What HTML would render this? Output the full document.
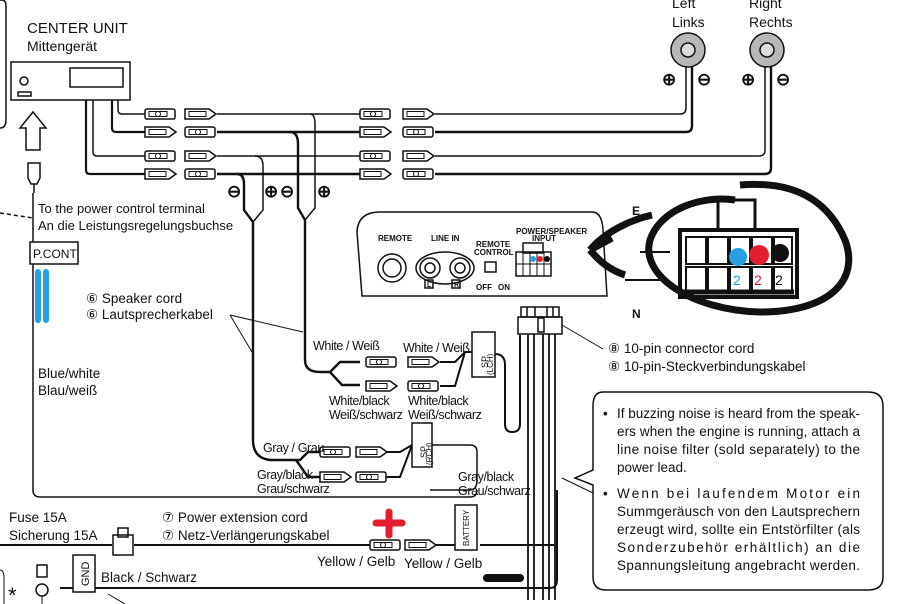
<!DOCTYPE html>
<html><head><meta charset="utf-8"><style>
html,body{margin:0;padding:0;background:#fff}
svg{display:block}
text{font-family:"Liberation Sans",sans-serif;fill:#111}
</style></head><body>
<svg width="913" height="604" viewBox="0 0 913 604" xmlns="http://www.w3.org/2000/svg">
<defs>
<g id="m"><rect x="0" y="-5" width="30" height="10" rx="2" fill="#fff" stroke="#111" stroke-width="1.5"/><rect x="4" y="-2.5" width="18" height="5" fill="none" stroke="#111"/><circle cx="13" cy="0" r="2.5" fill="none" stroke="#111"/></g>
<g id="f"><path d="M0,-5 H24 L31,0 L24,5 H0 Z" fill="#fff" stroke="#111" stroke-width="1.5"/><rect x="4" y="-2.5" width="17" height="5" fill="none" stroke="#111"/></g>
</defs>
<g fill="none" stroke="#111" stroke-width="1.5">
<path d="M0,0 H2 Q6,0 6,6 V120 Q6,128 0,128"/>
<rect x="11" y="62" width="119" height="38"/>
<rect x="70" y="68" width="53" height="19"/>
<circle cx="24" cy="81" r="4"/>
<rect x="18" y="92" width="13" height="4"/>
<path d="M26,150 V128 H20 L33,112 L46,128 H40 V150 Z"/>
<path d="M28,163 h12 v15 l-3,6 h-6 l-3,-6 z"/><line x1="34" y1="184" x2="34" y2="193"/>
<path d="M33,193 V490 Q33,497 40,497 H470 Q477,497 477,490"/>
<path d="M0,213 L33,218" stroke-dasharray="4,3"/>
<path d="M118,100 V110 Q118,114 122,114 H145"/>
<path d="M112,100 V128 Q112,132 116,132 H145" stroke-width="2.2"/>
<path d="M93,100 V152 Q93,156 97,156 H145"/>
<path d="M86,100 V170 Q86,174 90,174 H145" stroke-width="2.2"/>
<path d="M217,114 H360 M435,114 H680 Q686,114 686,108 V66"/>
<path d="M217,132 H360 M435,132 H686 Q692,132 692,126 V66" stroke-width="2.4"/>
<path d="M217,156 H360 M435,156 H759 Q765,156 765,150 V66"/>
<path d="M217,174 H360 M435,174 H765 Q771,174 771,168 V66" stroke-width="2.4"/>
<path d="M237,174 Q244,174 244,184 V210 L253,222 V440 Q253,458 270,460 H300 L308,452 H320" stroke-width="2.4"/>
<path d="M253,222 L263,210 V166 Q263,156 255,156"/>
<path d="M296,460 L308,477 H320" stroke-width="2.4"/>
<path d="M290,132 Q298,132 298,144 V208 L305,220 V360 Q305,372 320,372 H330 L340,362 H360" stroke-width="2.4"/>
<path d="M305,220 L315,208 V124 Q315,114 310,114"/>
<path d="M330,372 L342,385 H360" stroke-width="2.4"/>
<path d="M440,362 H455 L465,352 H472 M440,386 H455 L465,352" stroke-width="2"/>
<path d="M495,354 Q505,354 505,365 V424 Q505,432 512,432 Q520,432 520,424 V335" stroke-width="2"/>
<path d="M383,452 H400 L412,445 M383,477 H400 L412,445" stroke-width="2"/>
<path d="M430,445 H470 Q477,445 477,452 V480 Q477,490 470,490 H430" stroke-width="1.5"/>
<rect x="521" y="307" width="38" height="10"/>
<rect x="518" y="317" width="44" height="17"/>
<rect x="538" y="318" width="6" height="14"/>
<path d="M527,307 v10 M535,307 v10 M547,307 v10 M553,307 v10"/>
<path d="M528,334 V600 M534,334 V600 M543,334 V600 M549,334 V600 M555,334 V600" stroke-width="1.8"/>
<line x1="562" y1="325" x2="603" y2="349" stroke-width="1"/>
<path d="M562,478 L593,493" stroke-width="1"/>
<rect x="472" y="332" width="23" height="45" fill="#fff"/>
<rect x="412" y="423" width="20" height="44" fill="#fff"/>
<path d="M362,296 L357,232 Q358,212 380,212 H592 Q602,212 603,230 L607,296 Z"/>
<circle cx="392" cy="268" r="14"/><circle cx="392" cy="268" r="9"/>
<ellipse cx="445" cy="268" rx="29" ry="16"/>
<circle cx="430" cy="268" r="10"/><circle cx="430" cy="268" r="5"/>
<circle cx="460" cy="268" r="10"/><circle cx="460" cy="268" r="5"/>
<rect x="485" y="262" width="11" height="10"/>
<rect x="523" y="243" width="20" height="10"/>
<rect x="516" y="252" width="35" height="24"/>
<rect x="425" y="280" width="8" height="8"/><rect x="452" y="280" width="8" height="8"/>
<path d="M230,315 L252,352 M230,315 L303,332" stroke-width="1"/>
<path d="M0,545 H112 M134,545 H370 M436,545 H455 M480,545 H555" stroke-width="2"/>
<rect x="113" y="535" width="20" height="20" fill="#fff"/>
<rect x="118" y="528" width="10" height="9"/>
<rect x="455" y="505" width="22" height="45" fill="#fff"/>
<path d="M60,588 H550 Q557,588 557,580 V490" stroke-width="2"/>
<rect x="73" y="555" width="22" height="37" fill="#fff"/>
<circle cx="42" cy="590" r="6"/><rect x="37" y="565" width="10" height="12"/>
<path d="M42,596 V604 M108,594 L125,604" stroke-width="1"/>
<path d="M0,570 Q4,570 4,578 V604" stroke-width="1"/>
<circle cx="688" cy="50" r="17" fill="#b8b8b8"/><circle cx="688" cy="50" r="7" fill="#ddd"/>
<circle cx="767" cy="50" r="17" fill="#b8b8b8"/><circle cx="767" cy="50" r="7" fill="#ddd"/>
<path d="M603,392 H868 Q883,392 883,406 V577 Q883,590 868,590 H606 Q593,590 593,577 V485 L575,478 L593,470 V406 Q593,392 603,392 Z"/>
</g>
<g>
<use href="#m" x="145" y="114"/><use href="#f" x="185" y="114"/>
<use href="#f" x="145" y="132"/><use href="#m" x="185" y="132"/>
<use href="#m" x="145" y="156"/><use href="#f" x="185" y="156"/>
<use href="#f" x="145" y="174"/><use href="#m" x="185" y="174"/>
<use href="#m" x="360" y="114"/><use href="#f" x="403" y="114"/>
<use href="#f" x="360" y="132"/><use href="#m" x="403" y="132"/>
<use href="#m" x="360" y="156"/><use href="#f" x="403" y="156"/>
<use href="#f" x="360" y="174"/><use href="#m" x="403" y="174"/>
<use href="#m" x="366" y="362"/><use href="#f" x="408" y="362"/>
<use href="#f" x="366" y="386"/><use href="#m" x="408" y="386"/>
<use href="#m" x="320" y="452"/><use href="#f" x="356" y="452"/>
<use href="#f" x="320" y="477"/><use href="#m" x="356" y="477"/>
<use href="#m" x="370" y="545"/><use href="#f" x="405" y="545"/>
</g>
<g stroke="#111" stroke-width="1">
<line x1="516" y1="264" x2="551" y2="264"/>
<line x1="523" y1="252" x2="523" y2="276"/><line x1="530" y1="252" x2="530" y2="276"/><line x1="537" y1="252" x2="537" y2="276"/><line x1="544" y1="252" x2="544" y2="276"/>
</g>
<circle cx="533" cy="259" r="3" fill="#2a9fe0"/><circle cx="540" cy="259" r="3" fill="#e02020"/><circle cx="547" cy="259" r="3" fill="#111"/>
<g stroke="#111" fill="none">
<rect x="718" y="200" width="37" height="32" stroke-width="3"/>
<rect x="680" y="230" width="117" height="67" stroke-width="4" fill="#fff"/>
<g stroke-width="2"><rect x="686" y="237" width="20" height="27"/><rect x="708" y="237" width="20" height="27"/><rect x="730" y="237" width="20" height="27"/><rect x="752" y="237" width="20" height="27"/><rect x="774" y="237" width="18" height="27"/>
<rect x="686" y="267" width="20" height="25"/><rect x="708" y="267" width="20" height="25"/><rect x="730" y="267" width="20" height="25"/><rect x="752" y="267" width="20" height="25"/><rect x="774" y="267" width="18" height="25"/></g>
<line x1="684" y1="292" x2="794" y2="292" stroke-width="5"/>
<path d="M735,200 C700,195 660,210 650,240 C640,275 690,310 760,312 C830,312 860,280 845,240 C830,205 800,180 740,185" stroke-width="7"/>
<path d="M652,215 C630,220 605,232 590,250 M590,250 C600,262 610,270 625,275 M590,250 L612,238" stroke-width="7"/>
<path d="M670,252 H640 M660,280 H625" stroke-width="2"/>
</g>
<circle cx="738" cy="257" r="9" fill="#2a9fe0"/><circle cx="759" cy="255" r="10" fill="#e31d2d"/><circle cx="780" cy="253" r="9" fill="#111"/>
<text x="733" y="285" font-size="14" style="fill:#2a9fe0">2</text><text x="754" y="285" font-size="14" style="fill:#e31d2d">2</text><text x="775" y="285" font-size="14">2</text>
<text x="632" y="215" font-size="12" font-weight="bold">E</text>
<text x="632" y="318" font-size="12" font-weight="bold">N</text>
<path d="M376,523 H402 M389,512 V535" stroke="#e31d2d" stroke-width="7" stroke-linecap="round"/>
<path d="M487,578 H520" stroke="#111" stroke-width="8" stroke-linecap="round"/>
<path d="M38,272 V320 M46,272 V320" stroke="#2a9fe0" stroke-width="6" stroke-linecap="round"/>
<rect x="30" y="242" width="48" height="22" fill="#fff" stroke="#111" stroke-width="1.5"/>
<text x="33" y="258" font-size="12">P.CONT</text>
<text x="27" y="33" font-size="15">CENTER UNIT</text>
<text x="27" y="51" font-size="14">Mittengerät</text>
<text x="38" y="213" font-size="13">To the power control terminal</text>
<text x="38" y="230" font-size="13">An die Leistungsregelungsbuchse</text>
<text x="86" y="303" font-size="13.5">⑥ Speaker cord</text>
<text x="86" y="319" font-size="13.5">⑥ Lautsprecherkabel</text>
<text x="38" y="378" font-size="13.5">Blue/white</text>
<text x="38" y="395" font-size="13.5">Blau/weiß</text>
<text x="672" y="8" font-size="14">Left</text>
<text x="672" y="27" font-size="14">Links</text>
<text x="749" y="8" font-size="14">Right</text>
<text x="749" y="27" font-size="14">Rechts</text>
<g font-size="17" font-weight="bold"><text x="662" y="85">⊕</text><text x="697" y="85">⊖</text><text x="741" y="85">⊕</text><text x="776" y="85">⊖</text>
<text x="227" y="197">⊖</text><text x="264" y="197">⊕</text><text x="280" y="197">⊖</text><text x="317" y="197">⊕</text></g>
<g font-size="12.5" letter-spacing="-0.4">
<text x="313" y="350">White / Weiß</text>
<text x="403" y="352">White / Weiß</text>
<text x="329" y="405">White/black</text><text x="329" y="419">Weiß/schwarz</text>
<text x="408" y="405">White/black</text><text x="408" y="419">Weiß/schwarz</text>
<text x="263" y="452">Gray / Grau</text>
<text x="257" y="479">Gray/black</text><text x="257" y="493">Grau/schwarz</text>
<text x="458" y="481">Gray/black</text><text x="458" y="495">Grau/schwarz</text>
</g>
<g font-size="8" font-weight="bold">
<text x="378" y="241">REMOTE</text><text x="431" y="241">LINE IN</text>
<text x="476" y="247">REMOTE</text><text x="474" y="255">CONTROL</text>
<text x="516" y="234">POWER/SPEAKER</text><text x="532" y="241">INPUT</text>
<text x="476" y="290">OFF</text><text x="498" y="290">ON</text>
<text x="427" y="287" font-size="7">L</text><text x="454" y="287" font-size="7">R</text>
</g>
<g font-size="9">
<text transform="translate(488,368) rotate(-90)">SP</text><text transform="translate(493,375) rotate(-90)" font-size="8">(LCH)</text>
<text transform="translate(427,458) rotate(-90)">SP</text><text transform="translate(432,465) rotate(-90)" font-size="8">(RCH)</text>
<text transform="translate(469,546) rotate(-90)" font-size="8">BATTERY</text>
<text transform="translate(89,586) rotate(-90)" font-size="11">GND</text>
</g>
<text x="608" y="353" font-size="13.5">⑧ 10-pin connector cord</text>
<text x="608" y="371" font-size="13.5">⑧ 10-pin-Steckverbindungskabel</text>
<text x="9" y="522" font-size="13.5">Fuse 15A</text>
<text x="9" y="540" font-size="13.5">Sicherung 15A</text>
<text x="162" y="522" font-size="13.5">⑦ Power extension cord</text>
<text x="162" y="540" font-size="13.5">⑦ Netz-Verlängerungskabel</text>
<text x="317" y="566" font-size="13.5">Yellow / Gelb</text>
<text x="404" y="568" font-size="13.5">Yellow / Gelb</text>
<text x="101" y="582" font-size="13.5">Black / Schwarz</text>
<text x="8" y="603" font-size="22">*</text>
<g font-size="13.5">
<text x="603" y="418">•</text><text x="617" y="418" textLength="243">If buzzing noise is heard from the speak-</text>
<text x="617" y="436" textLength="243">ers when the engine is running, attach a</text>
<text x="617" y="454" textLength="243">line noise filter (sold separately) to the</text>
<text x="617" y="472">power lead.</text>
<text x="603" y="498">•</text><text x="617" y="498" textLength="243">Wenn bei laufendem Motor ein</text>
<text x="617" y="516" textLength="243">Summgeräusch von den Lautsprechern</text>
<text x="617" y="534" textLength="243">erzeugt wird, sollte ein Entstörfilter (als</text>
<text x="617" y="552" textLength="243">Sonderzubehör erhältlich) an die</text>
<text x="617" y="570" textLength="243">Spannungsleitung angebracht werden.</text>
</g>
</svg>
</body></html>
